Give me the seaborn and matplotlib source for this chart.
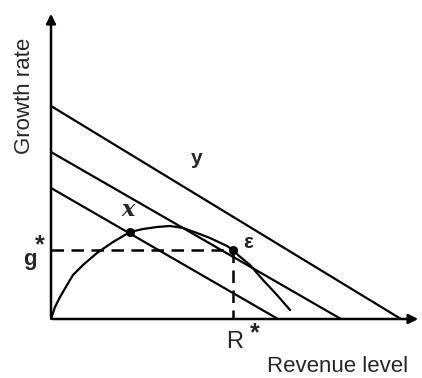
import matplotlib
matplotlib.use("Agg")
import matplotlib.pyplot as plt
import seaborn as sns

# --- data (arbitrary diagram units) ---
top_x = [0.0, 35.0]
top_y = [21.3, 0.0]
mid_x = [0.0, 29.0]
mid_y = [16.7, 0.0]
low_x = [0.0, 22.7]
low_y = [13.1, 0.0]

curve_x = [0.0, 0.4, 0.9, 1.6, 2.2, 3.2, 4.6, 6.2, 7.9, 9.2, 10.6, 11.9, 13.2,
           14.6, 15.9, 17.6, 18.2, 18.7, 19.9, 21.2, 22.6, 23.9]
curve_y = [0.0, 1.2, 2.2, 3.4, 4.4, 5.4, 6.6, 7.7, 8.7, 9.0, 9.2, 9.3, 9.1,
           8.6, 8.1, 7.3, 6.9, 6.4, 5.4, 3.9, 2.4, 0.9]

point_x = [7.9, 18.2]
point_y = [8.7, 6.9]
g_star = 6.9
r_star = 18.2

labels = {"y": "y", "x": "x", "e": "ε"}

sns.set_style("white")
plt.rcParams['font.family'] = ['Liberation Sans', 'DejaVu Sans']

fig = plt.figure(figsize=(4.22, 3.78), dpi=100)
ax = fig.add_axes([0, 0, 1, 1])
ax.set_xlim(-5.1, 37.1)
ax.set_ylim(-5.9, 31.9)
ax.axis("off")

lw = 1.6
for xs, ys in [(top_x, top_y), (mid_x, mid_y), (low_x, low_y)]:
    sns.lineplot(x=xs, y=ys, ax=ax, color="black", lw=lw, sort=False, estimator=None)

sns.lineplot(x=curve_x, y=curve_y, ax=ax, color="black", lw=lw, sort=False, estimator=None)
sns.scatterplot(x=point_x, y=point_y, ax=ax, color="black", s=36, zorder=5, edgecolor="black")

# dashed guides
ax.plot([0, r_star], [g_star, g_star], color="black", lw=1.8, ls=(0, (5, 3)))
ax.plot([r_star, r_star], [g_star, 0], color="black", lw=1.8, ls=(0, (5, 3)))

# axes with arrows
ax.annotate("", xy=(0, 30.8), xytext=(0, -0.1),
            arrowprops=dict(arrowstyle="-|>", color="black", lw=1.8, mutation_scale=14))
ax.annotate("", xy=(37.0, 0), xytext=(-0.1, 0),
            arrowprops=dict(arrowstyle="-|>", color="black", lw=1.8, mutation_scale=14))

fs = 16
ax.text(-2.6, 22.3, "Growth rate", rotation=90, ha="center", va="center", fontsize=fs)
ax.text(28.7, -4.7, "Revenue level", ha="center", va="center", fontsize=fs)
ax.text(14.6, 16.1, labels["y"], ha="center", va="center", fontsize=15, fontweight="bold")
ax.text(7.7, 10.9, labels["x"], ha="center", va="center", fontsize=16,
        family=["DejaVu Serif"], style="italic", fontweight="bold")
ax.text(19.7, 7.7, labels["e"], ha="center", va="center", fontsize=15, fontweight="bold")
ax.text(-2.1, 6.0, "g", ha="center", va="center", fontsize=16, fontweight="bold")
ax.text(-1.1, 7.4, "*", ha="center", va="center", fontsize=18, fontweight="bold")
ax.text(18.4, -2.3, "R", ha="center", va="center", fontsize=17)
ax.text(20.4, -1.4, "*", ha="center", va="center", fontsize=18, fontweight="bold")

fig.savefig("out.png", dpi=100, facecolor="white")
